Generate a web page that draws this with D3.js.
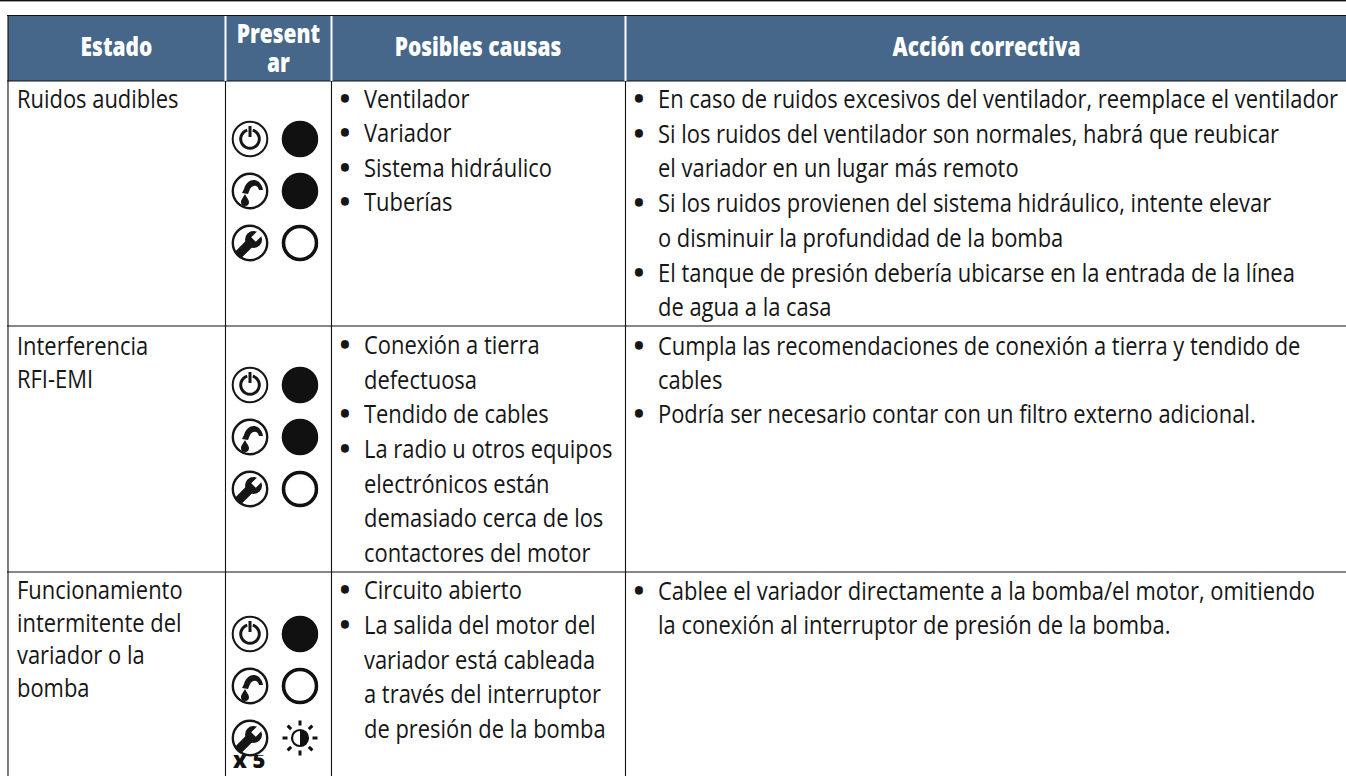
<!DOCTYPE html>
<html>
<head>
<meta charset="utf-8">
<script src="https://cdn.jsdelivr.net/npm/d3@7"></script>
<style>
html, body { margin: 0; padding: 0; background: #fff; }
svg { display: block; }
text { font-family: "Open Sans", sans-serif; }
.cell { fill: #161616; font-size: 25px; }
.bullet { fill: #161616; font-size: 25px; font-weight: 800; text-anchor: middle; }
.head { fill: #fff; font-size: 26.5px; font-weight: 800; }
.times { fill: #111; font-size: 22px; font-weight: 800; }
</style>
</head>
<body>
<svg id="chart" width="1346" height="776"></svg>
<script>
var columns = [["Estado"], ["Present", "ar"], ["Posibles causas"], ["Acción correctiva"]];

var estado = [
    ["Ruidos audibles"],
    ["Interferencia", "RFI-EMI"],
    ["Funcionamiento", "intermitente del", "variador o la", "bomba"]
];

var causas = [
    ["• Ventilador", "• Variador", "• Sistema hidráulico", "• Tuberías"],
    ["• Conexión a tierra", "defectuosa", "• Tendido de cables", "• La radio u otros equipos", "electrónicos están", "demasiado cerca de los", "contactores del motor"],
    ["• Circuito abierto", "• La salida del motor del", "variador está cableada", "a través del interruptor", "de presión de la bomba"]
];

var acciones = [
    ["• En caso de ruidos excesivos del ventilador, reemplace el ventilador",
     "• Si los ruidos del ventilador son normales, habrá que reubicar",
     "el variador en un lugar más remoto",
     "• Si los ruidos provienen del sistema hidráulico, intente elevar",
     "o disminuir la profundidad de la bomba",
     "• El tanque de presión debería ubicarse en la entrada de la línea",
     "de agua a la casa"],
    ["• Cumpla las recomendaciones de conexión a tierra y tendido de",
     "cables",
     "• Podría ser necesario contar con un filtro externo adicional."],
    ["• Cablee el variador directamente a la bomba/el motor, omitiendo",
     "la conexión al interruptor de presión de la bomba."]
];

// led state for power, fault and wrench icons, one list per row
var leds = [
    ["on", "on", "off"],
    ["on", "on", "off"],
    ["on", "off", "blink"]
];
var iconNames = ["power", "fault", "wrench"];

var WIDTH = 1346, HEIGHT = 776;
var X_SCALE = 0.877;
var colX = [8, 225.5, 331.5, 625.5];
var rowY = [81, 326, 572];
var iconTop = [139, 385, 634];
var INK = "#161616";

var svg = d3.select("#chart");

svg.append("rect").attr("width", WIDTH).attr("height", 1.4).attr("fill", "#111");
svg.append("rect").attr("x", colX[0]).attr("y", 16).attr("width", WIDTH - colX[0]).attr("height", 65).attr("fill", "#466789");

// borders
var hLines = [15.5].concat(rowY);
svg.selectAll("line.h").data(hLines).enter().append("line").attr("class", "h")
    .attr("x1", 7).attr("x2", WIDTH).attr("y1", function (d) { return d; }).attr("y2", function (d) { return d; })
    .attr("stroke", "#111").attr("stroke-width", 1.1);
svg.append("line").attr("x1", colX[0]).attr("x2", colX[0]).attr("y1", 15).attr("y2", HEIGHT).attr("stroke", "#111").attr("stroke-width", 1.1);
svg.selectAll("line.v").data(colX.slice(1)).enter().append("line").attr("class", "v")
    .attr("x1", function (d) { return d; }).attr("x2", function (d) { return d; }).attr("y1", 81).attr("y2", HEIGHT)
    .attr("stroke", "#111").attr("stroke-width", 1.1);
svg.selectAll("line.w").data(colX.slice(1)).enter().append("line").attr("class", "w")
    .attr("x1", function (d) { return d; }).attr("x2", function (d) { return d; }).attr("y1", 16).attr("y2", 81)
    .attr("stroke", "#fff").attr("stroke-width", 2);

function place(x, y, sx) {
    return "translate(" + x + "," + y + ") scale(" + sx + ",1)";
}

// header
var headCx = [116.5, 278.5, 478, 986.5];
columns.forEach(function (lines, c) {
    svg.selectAll("text.h" + c).data(lines).enter().append("text")
        .attr("class", "head h" + c)
        .attr("text-anchor", "middle")
        .attr("transform", function (d, i) {
            var y = lines.length > 1 ? 43 + i * 29 : 56;
            return place(headCx[c], y, 0.79);
        })
        .text(function (d) { return d; });
});

function drawLines(rows, starts, pitches, bulletX, textX) {
    rows.forEach(function (lines, r) {
        var g = svg.append("g");
        var line = g.selectAll("g").data(lines).enter().append("g")
            .attr("transform", function (d, i) { return "translate(0," + (starts[r] + i * pitches[r]) + ")"; });
        line.filter(function (d) { return d.indexOf("• ") === 0; }).append("text")
            .attr("class", "bullet")
            .attr("x", bulletX)
            .text("•");
        line.append("text")
            .attr("class", "cell")
            .attr("transform", place(textX, 0, X_SCALE))
            .text(function (d) { return d.replace("• ", ""); });
    });
}

drawLines(estado, [108, 355, 599], [0, 32.5, 32.5], 0, 17);
drawLines(causas, [108, 354, 599], [34.3, 34.67, 34.75], 345, 364);
drawLines(acciones, [108, 355, 600], [34.7, 34, 34], 639, 658);

// icons
function drawPower(g) {
    g.append("circle").attr("r", 17.3).attr("fill", "none").attr("stroke", INK).attr("stroke-width", 2);
    g.append("path").attr("d", d3.arc()({ innerRadius: 7.8, outerRadius: 10.8, startAngle: 0.3, endAngle: 2 * Math.PI - 0.3 })).attr("fill", INK);
    g.append("line").attr("y1", -13).attr("y2", -2).attr("stroke", INK).attr("stroke-width", 3);
}

function drawFault(g) {
    g.append("circle").attr("r", 17.2).attr("fill", "none").attr("stroke", INK).attr("stroke-width", 2.4);
    g.append("path").attr("d", "M13,-1 C11,-13 -2,-15 -6,-2 L-8,2 L-2,3 L0,-2 C3,-7 8,-6 9,-1 Z").attr("fill", INK);
    g.append("path").attr("d", "M-5,3 C-8,8 -9,9 -9,11 A4,4 0 0 0 -1,11 C-1,9 -3,7 -5,3 Z").attr("fill", INK);
}

function drawWrench(g) {
    g.append("circle").attr("r", 17.2).attr("fill", "none").attr("stroke", INK).attr("stroke-width", 2.4);
    var w = g.append("g").attr("transform", "rotate(45)");
    w.append("rect").attr("x", -4.5).attr("y", -1).attr("width", 9).attr("height", 19).attr("rx", 2).attr("fill", INK);
    w.append("circle").attr("cy", -5).attr("r", 8.5).attr("fill", INK);
    w.append("rect").attr("x", -3.2).attr("y", -15).attr("width", 6.4).attr("height", 10).attr("fill", "#fff");
}

var drawIcon = { power: drawPower, fault: drawFault, wrench: drawWrench };

function drawLed(g, state) {
    if (state === "on") {
        g.append("circle").attr("r", 18.3).attr("fill", "#111");
    } else if (state === "off") {
        g.append("circle").attr("r", 16.5).attr("fill", "none").attr("stroke", "#111").attr("stroke-width", 3.6);
    } else {
        g.append("circle").attr("r", 8).attr("fill", "#fff").attr("stroke", "#111").attr("stroke-width", 2.2);
        g.append("path").attr("d", d3.arc()({ innerRadius: 0, outerRadius: 8, startAngle: 0, endAngle: Math.PI })).attr("fill", "#111");
        g.selectAll("line").data(d3.range(8)).enter().append("line")
            .attr("y1", -12.5).attr("y2", -17.5)
            .attr("transform", function (d) { return "rotate(" + d * 45 + ")"; })
            .attr("stroke", "#111").attr("stroke-width", 3);
    }
}

svg.append("clipPath").attr("id", "ledClip").append("rect").attr("x", 270).attr("y", 81).attr("width", 48.6).attr("height", HEIGHT - 81);
svg.append("clipPath").attr("id", "timesClip").append("rect").attr("x", 226).attr("y", 755).attr("width", 60).attr("height", 20);

leds.forEach(function (states, r) {
    states.forEach(function (state, i) {
        var y = iconTop[r] + i * 52;
        drawIcon[iconNames[i]](svg.append("g").attr("transform", "translate(250," + y + ")"));
        drawLed(svg.append("g").attr("clip-path", "url(#ledClip)").append("g").attr("transform", "translate(300," + y + ")"), state);
    });
});

svg.append("g").attr("clip-path", "url(#timesClip)").append("text")
    .attr("class", "times")
    .attr("transform", place(233, 768, 1))
    .text("x 5");
</script>
</body>
</html>
